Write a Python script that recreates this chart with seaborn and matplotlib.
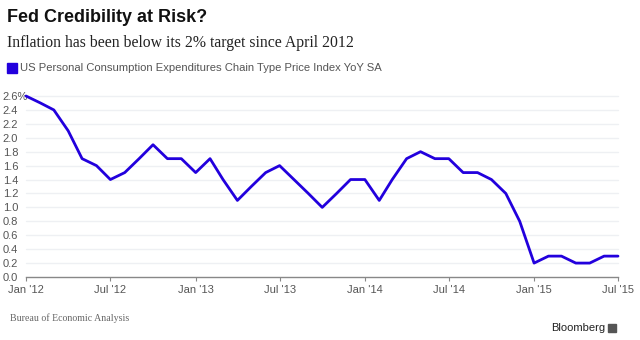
import matplotlib
matplotlib.use("Agg")
import matplotlib.pyplot as plt
import matplotlib.patches as mpatches
import seaborn as sns
import pandas as pd
import numpy as np

months = pd.date_range("2012-01-01", "2015-07-01", freq="MS")
pce_yoy = [2.6, 2.5, 2.4, 2.1, 1.7, 1.6, 1.4, 1.5, 1.7, 1.9, 1.7, 1.7,
           1.5, 1.7, 1.4, 1.1, 1.3, 1.5, 1.6, 1.4, 1.2, 1.0, 1.2, 1.4,
           1.4, 1.1, 1.4, 1.7, 1.8, 1.7, 1.7, 1.5, 1.5, 1.4, 1.2, 0.8,
           0.2, 0.3, 0.3, 0.2, 0.2, 0.3, 0.3]
x_ticks = pd.date_range("2012-01-01", "2015-07-01", freq="6MS")
x_labels = ["Jan '12", "Jul '12", "Jan '13", "Jul '13", "Jan '14", "Jul '14", "Jan '15", "Jul '15"]
y_ticks = [0.0, 0.2, 0.4, 0.6, 0.8, 1.0, 1.2, 1.4, 1.6, 1.8, 2.0, 2.2, 2.4, 2.6]
y_labels = ["0.0", "0.2", "0.4", "0.6", "0.8", "1.0", "1.2", "1.4", "1.6", "1.8", "2.0", "2.2", "2.4", "2.6%"]

title = "Fed Credibility at Risk?"
subtitle = "Inflation has been below its 2% target since April 2012"
series_name = "US Personal Consumption Expenditures Chain Type Price Index YoY SA"
source = "Bureau of Economic Analysis"

df = pd.DataFrame({"month": months, "value": pce_yoy})

sns.set_theme(style="white")
plt.rcParams['font.family'] = ['Liberation Sans', 'DejaVu Sans']

LINE = "#2200dd"
GRAY = "#555555"

fig = plt.figure(figsize=(6.4, 3.4), dpi=100)
ax = fig.add_axes([26/640, 1-277/340, (618-26)/640, (277-96)/340])

for yv in y_ticks[1:]:
    ax.axhline(yv, color="#eef0f3", lw=1.0, zorder=0)

sns.lineplot(data=df, x="month", y="value", ax=ax, color=LINE, lw=2.0, zorder=3)

ax.set_xlim(months[0], months[-1])
ax.set_ylim(0, 2.6)
ax.set_yticks(y_ticks)
ax.set_yticklabels(y_labels)
ax.set_xticks(x_ticks)
ax.set_xticklabels(x_labels)
ax.set_xlabel("")
ax.set_ylabel("")
for s in ["top", "right", "left"]:
    ax.spines[s].set_visible(False)
ax.spines["bottom"].set_color("#888888")
ax.spines["bottom"].set_linewidth(1.0)
ax.tick_params(axis="y", length=0, pad=1, labelsize=8, labelcolor=GRAY)
ax.tick_params(axis="x", length=3, width=0.8, color="#888888", pad=3, labelsize=8, labelcolor=GRAY, direction="out", bottom=True)
for lbl in ax.get_yticklabels():
    lbl.set_horizontalalignment("left")
    lbl.set_x(-22/592)
ax.set_clip_on(False)
for l in ax.get_lines():
    l.set_clip_on(False)

fig.text(7/640, 1-17/340, title, fontsize=13, fontweight="bold", color="#111111", va="center", ha="left")
fig.text(7/640, 1-43/340, subtitle, fontsize=11.3, family=["Liberation Serif", "DejaVu Serif"], color="#222222", va="center", ha="left")
fig.patches.append(mpatches.Rectangle((7/640, 1-73/340), 10/640, 10/340, transform=fig.transFigure, color=LINE, figure=fig))
fig.text(20/640, 1-68/340, series_name, fontsize=8.1, color=GRAY, va="center", ha="left")
fig.text(10/640, 1-318/340, source, fontsize=7.1, family=["Liberation Serif", "DejaVu Serif"], color="#666666", va="center", ha="left")
fig.text(605/640, 1-328/340, "Bloomberg", fontsize=8, color="#222222", va="center", ha="right")
fig.patches.append(mpatches.Rectangle((608/640, 1-332/340), 8/640, 8/340, transform=fig.transFigure, color="#555555", figure=fig))

fig.savefig("out.png", dpi=100)
